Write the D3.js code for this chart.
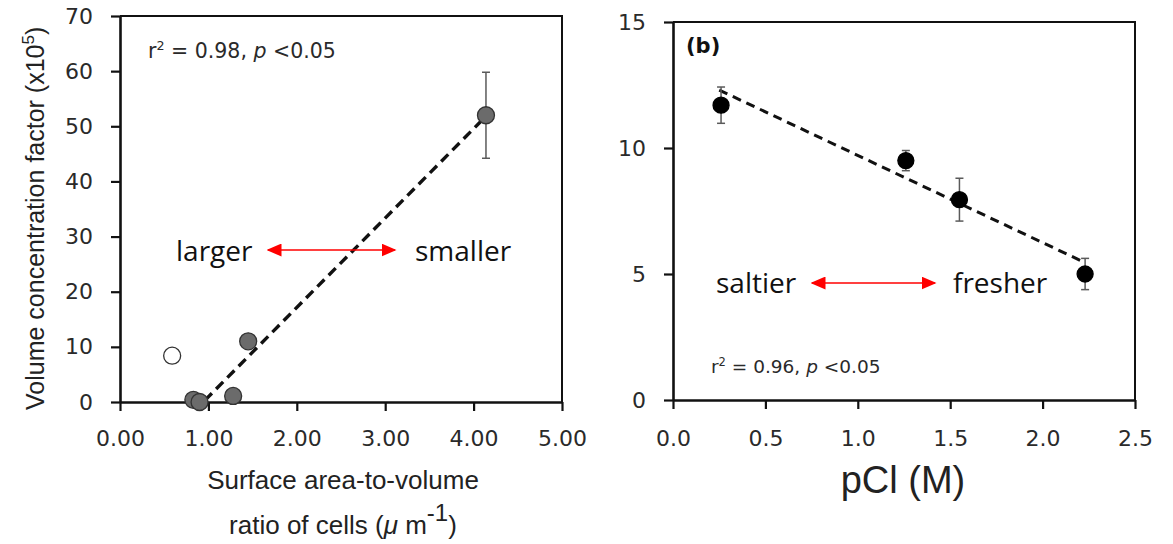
<!DOCTYPE html>
<html>
<head>
<meta charset="utf-8">
<script src="https://cdn.jsdelivr.net/npm/d3@7"></script>
<style>
  body { margin: 0; background: #fff; }
  svg { display: block; }
  .tick text { font-family: "DejaVu Sans", Verdana, sans-serif; fill: #2a2a2a; }
</style>
</head>
<body>
<svg id="chart" width="1173" height="544"></svg>
<script>
// panel (a): surface area-to-volume ratio vs volume concentration factor
var saRatio   = [0.59, 0.83, 0.90, 1.28, 1.45, 4.14];
var vcFactor  = [8.4, 0.4, 0.0, 1.1, 11.0, 52.0];
var vcErr     = [0, 0, 0, 0, 0.9, 7.8];
var vcOpen    = [true, false, false, false, false, false];
var fitA      = [[0.96, 0.3], [4.12, 51.5]];
var ticksAx   = [0, 1, 2, 3, 4, 5];
var ticksAy   = [0, 10, 20, 30, 40, 50, 60, 70];

// panel (b): pCl vs concentration factor
var pCl       = [0.26, 1.26, 1.55, 2.23];
var cfB       = [11.7, 9.5, 7.95, 5.0];
var cfBErr    = [0.72, 0.4, 0.85, 0.62];
var fitB      = [[0.25, 12.3], [2.23, 5.45]];
var ticksBx   = [0, 0.5, 1.0, 1.5, 2.0, 2.5];
var ticksBy   = [0, 5, 10, 15];

var svg = d3.select('#chart');
var annoFont = '"Open Sans", sans-serif';
var statFont = '"DejaVu Sans", Verdana, sans-serif';
var titleFont = '"Liberation Sans", Arial, sans-serif';
var tickSize = 22;

svg.append('defs').append('marker')
  .attr('id', 'arrowhead')
  .attr('viewBox', '0 0 10 10')
  .attr('refX', 9).attr('refY', 5)
  .attr('markerWidth', 15).attr('markerHeight', 13)
  .attr('markerUnits', 'userSpaceOnUse')
  .attr('orient', 'auto-start-reverse')
  .attr('preserveAspectRatio', 'none')
  .append('path')
  .attr('d', 'M0,0 L10,5 L0,10 Z')
  .attr('fill', '#ff0000');

function drawPanel(o) {
  var g = svg.append('g');
  var x = o.x, y = o.y;
  var x0 = x.range()[0], x1 = x.range()[1];
  var y0 = y.range()[0], y1 = y.range()[1];

  // frame top / right
  g.append('path')
    .attr('d', 'M' + x0 + ',' + y1 + 'H' + x1 + 'V' + y0)
    .attr('fill', 'none').attr('stroke', '#111').attr('stroke-width', 2);

  var ax = g.append('g')
    .attr('transform', 'translate(0,' + y0 + ')')
    .call(d3.axisBottom(x).tickValues(o.xTicks).tickFormat(o.xFmt)
      .tickSize(9).tickSizeOuter(0).tickPadding(o.xPad));
  var ay = g.append('g')
    .attr('transform', 'translate(' + x0 + ',0)')
    .call(d3.axisLeft(y).tickValues(o.yTicks).tickFormat(d3.format('d'))
      .tickSize(9).tickSizeOuter(0).tickPadding(18));
  [ax, ay].forEach(function (a) {
    a.attr('font-size', tickSize).attr('font-family', statFont);
    a.select('.domain').attr('stroke', '#111').attr('stroke-width', 2.6);
    a.selectAll('.tick line').attr('stroke', '#111').attr('stroke-width', 2.2);
    a.selectAll('.tick text').attr('font-size', tickSize);
  });

  // regression line
  g.append('line')
    .attr('x1', x(o.fit[0][0])).attr('y1', y(o.fit[0][1]))
    .attr('x2', x(o.fit[1][0])).attr('y2', y(o.fit[1][1]))
    .attr('stroke', '#111').attr('stroke-width', o.fitWidth)
    .attr('stroke-dasharray', o.fitDash);

  // error bars
  var eb = g.selectAll('.eb').data(o.xs.map(function (d, i) {
    return { x: d, y: o.ys[i], e: o.errs[i] };
  }).filter(function (d) { return d.e > 0; }))
    .enter().append('g').attr('class', 'eb')
    .attr('stroke', '#5a5a5a').attr('stroke-width', 1.5);
  eb.append('line')
    .attr('x1', function (d) { return x(d.x); }).attr('x2', function (d) { return x(d.x); })
    .attr('y1', function (d) { return y(d.y + d.e); }).attr('y2', function (d) { return y(d.y - d.e); });
  [1, -1].forEach(function (s) {
    eb.append('line')
      .attr('x1', function (d) { return x(d.x) - 4; }).attr('x2', function (d) { return x(d.x) + 4; })
      .attr('y1', function (d) { return y(d.y + s * d.e); }).attr('y2', function (d) { return y(d.y + s * d.e); });
  });

  // points
  g.selectAll('.pt').data(o.xs).enter().append('circle')
    .attr('class', 'pt')
    .attr('cx', function (d) { return x(d); })
    .attr('cy', function (d, i) { return y(o.ys[i]); })
    .attr('r', o.r)
    .attr('fill', function (d, i) { return o.open && o.open[i] ? '#fff' : o.fill; })
    .attr('stroke', o.stroke).attr('stroke-width', 1.3);

  return g;
}

function statText(g, x, y, size, r2) {
  var t = g.append('text').attr('x', x).attr('y', y)
    .attr('font-family', statFont).attr('font-size', size).attr('fill', '#2a2a2a');
  t.append('tspan').text('r');
  t.append('tspan').attr('dy', -size * 0.38).attr('font-size', size * 0.62).text('2');
  t.append('tspan').attr('dy', size * 0.38).text(' = ' + r2 + ', ');
  t.append('tspan').attr('font-style', 'italic').text('p');
  t.append('tspan').text(' <0.05');
}

function arrowLabel(g, left, right, x1, x2, yArrow, yText) {
  g.append('text').attr('x', left[1]).attr('y', yText)
    .attr('font-family', annoFont).attr('font-size', 28).attr('fill', '#111').text(left[0]);
  g.append('text').attr('x', right[1]).attr('y', yText)
    .attr('font-family', annoFont).attr('font-size', 28).attr('fill', '#111').text(right[0]);
  g.append('line').attr('x1', x1).attr('y1', yArrow).attr('x2', x2).attr('y2', yArrow)
    .attr('stroke', '#ff0000').attr('stroke-width', 1.6)
    .attr('marker-start', 'url(#arrowhead)').attr('marker-end', 'url(#arrowhead)');
}

// ---- panel (a)
var xA = d3.scaleLinear().domain([0, 5]).range([120, 562]);
var yA = d3.scaleLinear().domain([0, 70]).range([402, 16]);
var gA = drawPanel({
  x: xA, y: yA, xTicks: ticksAx, yTicks: ticksAy, xFmt: d3.format('.2f'), xPad: 19,
  xs: saRatio, ys: vcFactor, errs: vcErr, open: vcOpen,
  fit: fitA, fitWidth: 3.4, fitDash: '10,6',
  r: 8.5, fill: '#6b6b6b', stroke: '#333'
});

statText(gA, 148, 58, 20.5, '0.98');
arrowLabel(gA, ['larger', 176], ['smaller', 415], 268, 395, 250, 261);

// axis titles (a)
var ytA = gA.append('text')
  .attr('transform', 'translate(44,410) rotate(-90)')
  .attr('text-anchor', 'start')
  .attr('font-family', titleFont).attr('font-size', 25).attr('fill', '#222');
ytA.append('tspan').text('Volume concentration factor (x10');
ytA.append('tspan').attr('dy', -10).attr('font-size', 17).text('5');
ytA.append('tspan').attr('dy', 10).text(')');

gA.append('text').attr('x', 343).attr('y', 489).attr('text-anchor', 'middle')
  .attr('font-family', titleFont).attr('font-size', 26).attr('fill', '#222')
  .text('Surface area-to-volume');
var xtA = gA.append('text').attr('x', 343).attr('y', 534).attr('text-anchor', 'middle')
  .attr('font-family', titleFont).attr('font-size', 26).attr('fill', '#222');
xtA.append('tspan').text('ratio of cells (');
xtA.append('tspan').attr('font-style', 'italic').text('\u03bc');
xtA.append('tspan').text(' m');
xtA.append('tspan').attr('dy', -13).attr('font-size', 24).text('-1');
xtA.append('tspan').attr('dy', 13).text(')');

// ---- panel (b)
var xB = d3.scaleLinear().domain([0, 2.5]).range([673, 1135]);
var yB = d3.scaleLinear().domain([0, 15]).range([400, 22]);
var gB = drawPanel({
  x: xB, y: yB, xTicks: ticksBx, yTicks: ticksBy, xFmt: d3.format('.1f'), xPad: 21,
  xs: pCl, ys: cfB, errs: cfBErr, open: null,
  fit: fitB, fitWidth: 3, fitDash: '9,6',
  r: 8, fill: '#000', stroke: '#000'
});

gB.append('text').attr('x', 686).attr('y', 53)
  .attr('font-family', statFont).attr('font-weight', 'bold')
  .attr('font-size', 21).attr('fill', '#111').text('(b)');

statText(gB, 711, 373, 18.5, '0.96');
arrowLabel(gB, ['saltier', 716], ['fresher', 953], 812, 935, 283, 293);

gB.append('text').attr('x', 903).attr('y', 493).attr('text-anchor', 'middle')
  .attr('font-family', titleFont).attr('font-size', 38).attr('fill', '#222')
  .text('pCl (M)');
</script>
</body>
</html>
